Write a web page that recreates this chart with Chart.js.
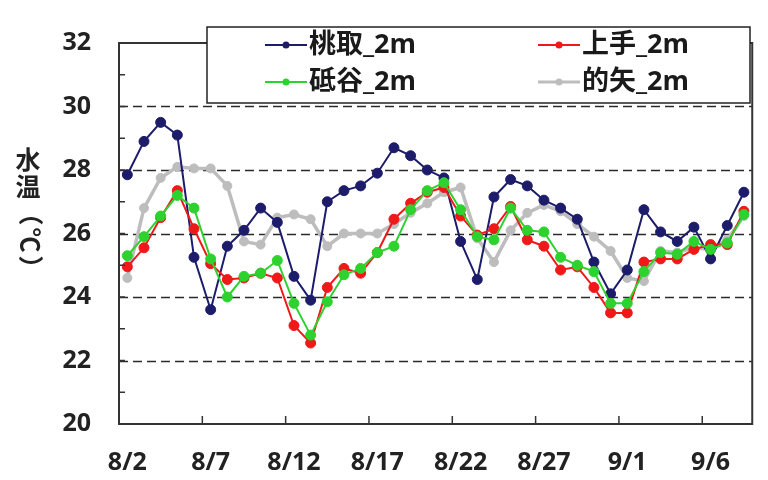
<!doctype html>
<html>
<head>
<meta charset="utf-8">
<title>水温</title>
<script src="https://cdn.jsdelivr.net/npm/chart.js@4.4.0/dist/chart.umd.min.js"></script>
<style>
  body { margin: 0; background: #fff; }
  #holder { width: 768px; height: 480px; }
</style>
</head>
<body>
<div id="holder"><canvas id="chart"></canvas></div>
<script>
var dates = ['8/2','8/3','8/4','8/5','8/6','8/7','8/8','8/9','8/10','8/11',
             '8/12','8/13','8/14','8/15','8/16','8/17','8/18','8/19','8/20','8/21',
             '8/22','8/23','8/24','8/25','8/26','8/27','8/28','8/29','8/30','8/31',
             '9/1','9/2','9/3','9/4','9/5','9/6','9/7','9/8'];

var momotori = [27.85, 28.9, 29.5, 29.1, 25.25, 23.6, 25.6, 26.1, 26.8, 26.35,
                24.65, 23.9, 27.0, 27.35, 27.5, 27.9, 28.7, 28.45, 28.0, 27.75,
                25.75, 24.55, 27.15, 27.7, 27.5, 27.05, 26.8, 26.45, 25.1, 24.1,
                24.85, 26.75, 26.05, 25.75, 26.2, 25.2, 26.25, 27.3];
var uwate = [24.95, 25.55, 26.5, 27.35, 26.15, 25.05, 24.55, 24.6, 24.75, 24.6,
             23.1, 22.55, 24.3, 24.9, 24.75, 25.4, 26.45, 26.95, 27.3, 27.45,
             26.55, 25.95, 26.15, 26.85, 25.8, 25.6, 24.85, 24.95, 24.3, 23.5,
             23.5, 25.1, 25.2, 25.2, 25.5, 25.65, 25.65, 26.7];
var toishitani = [25.3, 25.9, 26.55, 27.2, 26.8, 25.2, 24.0, 24.65, 24.75, 25.15,
                  23.8, 22.8, 23.85, 24.7, 24.9, 25.4, 25.6, 26.75, 27.35, 27.6,
                  26.75, 25.9, 25.8, 26.8, 26.1, 26.05, 25.25, 25.0, 24.8, 23.8,
                  23.8, 24.8, 25.4, 25.35, 25.75, 25.5, 25.7, 26.6];
var matoya = [24.6, 26.8, 27.75, 28.1, 28.05, 28.05, 27.5, 25.75, 25.65, 26.5,
              26.6, 26.45, 25.6, 26.0, 26.0, 26.0, 26.3, 26.65, 26.95, 27.3,
              27.45, 25.85, 25.1, 26.1, 26.65, 26.9, 26.7, 26.3, 25.9, 25.45,
              24.6, 24.5, 25.45, 25.4, 25.55, 25.5, 25.8, 26.55];

var names = ['桃取_2m', '上手_2m', '砥谷_2m', '的矢_2m'];
var colors = ['#1c1c6b', '#f01818', '#2ed22e', '#bdbdbd'];
var yTitle = ['水', '温', '（', '℃', '）'];
var dashedAt = [22, 24, 26, 28, 30];

var FONT = "'Open Sans', 'Noto Sans CJK JP', sans-serif";

function series(i, values, width, radius, order) {
    return {
        label: names[i],
        data: values,
        borderColor: colors[i],
        backgroundColor: colors[i],
        borderWidth: width,
        pointRadius: radius,
        pointBorderWidth: 1,
        pointBorderColor: colors[i],
        pointBackgroundColor: colors[i],
        tension: 0,
        order: order
    };
}

// dashed grid, box, inner tick marks, legend and the stacked y title
var decorations = {
    id: 'decorations',
    beforeDatasetsDraw: function(chart) {
        var ctx = chart.ctx, a = chart.chartArea, ys = chart.scales.y;
        ctx.save();
        ctx.strokeStyle = '#2a2a2a';
        ctx.lineWidth = 1.5;
        ctx.setLineDash([9, 5]);
        dashedAt.forEach(function(v) {
            var py = Math.round(ys.getPixelForValue(v)) + 0.5;
            ctx.beginPath();
            ctx.moveTo(a.left, py);
            ctx.lineTo(a.right, py);
            ctx.stroke();
        });
        ctx.restore();
    },
    afterDatasetsDraw: function(chart) {
        var ctx = chart.ctx, a = chart.chartArea;
        var xs = chart.scales.x, ys = chart.scales.y;
        ctx.save();
        ctx.strokeStyle = '#333';
        ctx.lineWidth = 1.5;
        // minor ticks on y, pointing inside
        for (var v = 21; v < 32; v++) {
            var py = ys.getPixelForValue(v);
            ctx.beginPath();
            ctx.moveTo(a.left, py);
            ctx.lineTo(a.left + 6, py);
            ctx.stroke();
        }
        // x ticks between categories every 5 days
        for (var i = 5; i < dates.length; i += 5) {
            var px = (xs.getPixelForValue(i - 1) + xs.getPixelForValue(i)) / 2;
            ctx.beginPath();
            ctx.moveTo(px, a.bottom);
            ctx.lineTo(px, a.bottom - 8);
            ctx.stroke();
        }
        ctx.lineWidth = 2;
        ctx.strokeRect(a.left, a.top, a.right - a.left, a.bottom - a.top);

        // legend box
        var lx = 207, ly = 27, lw = 543, lh = 76;
        ctx.fillStyle = '#fff';
        ctx.fillRect(lx, ly, lw, lh);
        ctx.lineWidth = 1.5;
        ctx.strokeStyle = '#222';
        ctx.strokeRect(lx, ly, lw, lh);
        var cols = [265, 538], rows = [45, 82];
        ctx.font = 'bold 27px ' + FONT;
        ctx.textBaseline = 'middle';
        ctx.textAlign = 'left';
        chart.data.datasets.forEach(function(ds, k) {
            var cx = cols[k % 2], cy = rows[Math.floor(k / 2)];
            ctx.strokeStyle = ds.borderColor;
            ctx.lineWidth = k === 3 ? 3 : 2;
            ctx.beginPath();
            ctx.moveTo(cx, cy);
            ctx.lineTo(cx + 42, cy);
            ctx.stroke();
            ctx.fillStyle = ds.borderColor;
            ctx.beginPath();
            ctx.arc(cx + 21, cy, 3.5, 0, Math.PI * 2);
            ctx.fill();
            ctx.fillStyle = '#1a1a1a';
            ctx.fillText(ds.label, cx + 44, cy);
        });
        ctx.restore();
    },
    afterDraw: function(chart) {
        var ctx = chart.ctx;
        ctx.save();
        ctx.font = 'bold 25px ' + FONT;
        ctx.fillStyle = '#222';
        ctx.textAlign = 'center';
        ctx.textBaseline = 'middle';
        var ypos = [162, 189, 213, 240, 268];
        yTitle.forEach(function(ch, k) {
            ctx.save();
            ctx.translate(28, ypos[k]);
            if (k >= 2) ctx.rotate(Math.PI / 2);
            ctx.fillText(ch, 0, 0);
            ctx.restore();
        });
        ctx.restore();
    }
};

var config = {
    type: 'line',
    data: {
        labels: dates,
        datasets: [
            series(0, momotori, 2, 5, 2),
            series(1, uwate, 2, 5, 1),
            series(2, toishitani, 2, 5, 0),
            series(3, matoya, 3.5, 4.5, 3)
        ]
    },
    options: {
        responsive: true,
        maintainAspectRatio: false,
        animation: false,
        layout: { padding: { top: 19, right: 7, left: 0, bottom: 0 } },
        plugins: {
            legend: { display: false },
            tooltip: { enabled: false }
        },
        scales: {
            x: {
                offset: true,
                afterFit: function(s) { s.height = 56; },
                grid: { display: false, drawTicks: false },
                border: { display: false },
                ticks: {
                    autoSkip: false,
                    maxRotation: 0,
                    padding: 24,
                    color: '#222',
                    font: { family: FONT, size: 25, weight: 'bold' },
                    callback: function(val, idx) {
                        return idx % 5 === 0 ? dates[idx] : '';
                    }
                }
            },
            y: {
                min: 20,
                max: 32,
                afterFit: function(s) { s.width = 119; },
                grid: { display: false, drawTicks: false },
                border: { display: false },
                ticks: {
                    stepSize: 1,
                    padding: 28,
                    color: '#222',
                    font: { family: FONT, size: 25, weight: 'bold' },
                    callback: function(v) { return v % 2 === 0 ? v : ''; }
                }
            }
        }
    },
    plugins: [decorations]
};

window.onload = function() {
    var ctx = document.getElementById('chart').getContext('2d');
    window.tempChart = new Chart(ctx, config);
};
</script>
</body>
</html>
